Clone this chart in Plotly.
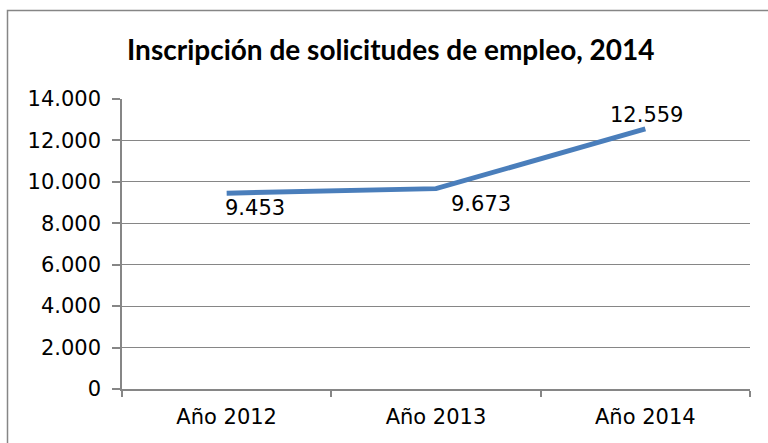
import plotly.graph_objects as go

categories = ["Año 2012", "Año 2013", "Año 2014"]
values = [9453, 9673, 12559]
label_texts = ["9.453", "9.673", "12.559"]
y_tickvals = [0, 2000, 4000, 6000, 8000, 10000, 12000, 14000]
y_ticktext = ["0", "2.000", "4.000", "6.000", "8.000", "10.000", "12.000", "14.000"]

W, H = 768, 443
L, R, T, B = 122, 18, 99, 54
PW, PH = W - L - R, H - T - B

fig = go.Figure()
fig.add_trace(go.Scatter(
    x=categories, y=values, mode="lines",
    line=dict(color="#4A7EBB", width=5),
    hoverinfo="skip", showlegend=False,
))

# data labels, offsets as in the original chart
offsets = [(28, -15), (45, -15), (1, 14)]
for c, v, t, (dx, dy) in zip(categories, values, label_texts, offsets):
    fig.add_annotation(x=c, y=v, text=t, showarrow=False, xshift=dx, yshift=dy,
                       font=dict(family="DejaVu Sans", size=21, color="#000000"))

fig.add_annotation(xref="paper", yref="paper", x=(391 - L) / PW, y=1 + (T - 49) / PH,
                   text="<b>Inscripción de solicitudes de empleo, 2014</b>", showarrow=False,
                   xanchor="center", yanchor="middle",
                   font=dict(family="Lato", size=28, color="#000000"))

# outer chart border (left and top visible)
fig.add_shape(type="rect", xref="paper", yref="paper",
              x0=-(L - 7.5) / PW, x1=1 + 40 / PW,
              y0=-(B + 40) / PH, y1=1 + (T - 10.5) / PH,
              line=dict(color="#868686", width=1.5), fillcolor="rgba(0,0,0,0)", layer="below")

fig.update_layout(
    width=W, height=H,
    margin=dict(l=L, r=R, t=T, b=B, pad=0),
    paper_bgcolor="white", plot_bgcolor="white",
    font=dict(family="DejaVu Sans", size=21, color="#000000"),
)
fig.update_xaxes(
    type="category", showgrid=False, showline=True, linecolor="#868686", linewidth=1.5,
    ticks="outside", tickson="boundaries", ticklen=6, tickcolor="#868686", tickwidth=1.5,
    tickfont=dict(family="DejaVu Sans", size=21), range=[-0.5, 2.5], fixedrange=True,
    automargin=False, ticklabelstandoff=8,
)
fig.update_yaxes(
    range=[0, 14000], tickvals=y_tickvals, ticktext=y_ticktext,
    showgrid=True, gridcolor="#868686", gridwidth=1.2,
    showline=True, linecolor="#868686", linewidth=1.5,
    ticks="outside", ticklen=8, tickcolor="#868686", tickwidth=1.5,
    tickfont=dict(family="DejaVu Sans", size=21), zeroline=False, automargin=False,
    ticklabelstandoff=7, fixedrange=True,
)

fig.write_html("out.html", config={"displayModeBar": False},
               post_script="document.body.style.margin='0';")
